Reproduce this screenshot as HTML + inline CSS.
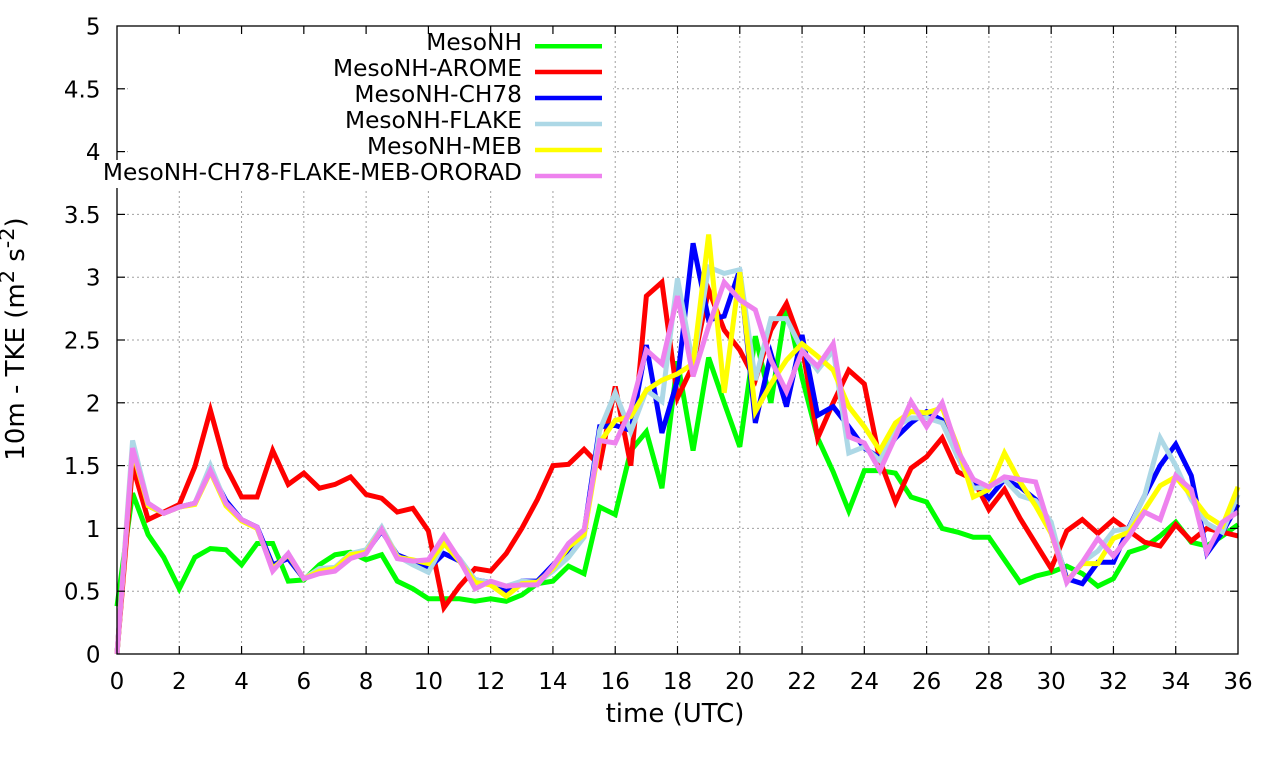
<!DOCTYPE html>
<html>
<head>
<meta charset="utf-8">
<style>
  html,body{margin:0;padding:0;background:#fff;}
  svg{display:block;}
  text{font-family:"DejaVu Sans","Liberation Sans",sans-serif;fill:#000;}
</style>
</head>
<body>
<svg width="1280" height="760" viewBox="0 0 1280 760" xmlns="http://www.w3.org/2000/svg">
  <rect x="0" y="0" width="1280" height="760" fill="#fff"/>

  <!-- grid -->
  <g stroke="#a0a0a0" stroke-width="1" stroke-dasharray="2,3" fill="none">
    <line x1="117" y1="591.2" x2="1238" y2="591.2"/>
    <line x1="117" y1="528.4" x2="1238" y2="528.4"/>
    <line x1="117" y1="465.6" x2="1238" y2="465.6"/>
    <line x1="117" y1="402.8" x2="1238" y2="402.8"/>
    <line x1="117" y1="340" x2="1238" y2="340"/>
    <line x1="117" y1="277.2" x2="1238" y2="277.2"/>
    <line x1="117" y1="214.4" x2="1238" y2="214.4"/>
    <line x1="117" y1="151.6" x2="1238" y2="151.6"/>
    <line x1="117" y1="88.8" x2="1238" y2="88.8"/>
    <line x1="179.28" y1="26" x2="179.28" y2="654"/>
    <line x1="241.56" y1="26" x2="241.56" y2="654"/>
    <line x1="303.83" y1="26" x2="303.83" y2="654"/>
    <line x1="366.11" y1="26" x2="366.11" y2="654"/>
    <line x1="428.39" y1="26" x2="428.39" y2="654"/>
    <line x1="490.67" y1="26" x2="490.67" y2="654"/>
    <line x1="552.94" y1="26" x2="552.94" y2="654"/>
    <line x1="615.22" y1="26" x2="615.22" y2="654"/>
    <line x1="677.5" y1="26" x2="677.5" y2="654"/>
    <line x1="739.78" y1="26" x2="739.78" y2="654"/>
    <line x1="802.06" y1="26" x2="802.06" y2="654"/>
    <line x1="864.33" y1="26" x2="864.33" y2="654"/>
    <line x1="926.61" y1="26" x2="926.61" y2="654"/>
    <line x1="988.89" y1="26" x2="988.89" y2="654"/>
    <line x1="1051.17" y1="26" x2="1051.17" y2="654"/>
    <line x1="1113.44" y1="26" x2="1113.44" y2="654"/>
    <line x1="1175.72" y1="26" x2="1175.72" y2="654"/>
  </g>

  <!-- data -->
  <g transform="translate(117,654) scale(15.5694,-125.6)" fill="none" stroke-width="5" stroke-linejoin="miter" stroke-miterlimit="4">
    <polyline vector-effect="non-scaling-stroke" stroke="#00ff00" points="0,0.38 1,1.28 2,0.95 3,0.77 4,0.52 5,0.77 6,0.84 7,0.83 8,0.71 9,0.88 10,0.88 11,0.58 12,0.59 13,0.71 14,0.79 15,0.81 16,0.75 17,0.79 18,0.58 19,0.52 20,0.44 21,0.44 22,0.44 23,0.42 24,0.44 25,0.42 26,0.47 27,0.56 28,0.58 29,0.70 30,0.64 31,1.17 32,1.11 33,1.62 34,1.77 35,1.32 36,2.33 37,1.62 38,2.36 39,2.0 40,1.65 41,2.53 42,2.0 43,2.79 44,2.2 45,1.72 46,1.45 47,1.14 48,1.46 49,1.46 50,1.44 51,1.25 52,1.21 53,1.0 54,0.97 55,0.93 56,0.93 57,0.75 58,0.57 59,0.62 60,0.65 61,0.70 62,0.64 63,0.54 64,0.60 65,0.81 66,0.85 67,0.94 68,1.05 69,0.89 70,0.86 71,0.94 72,1.03"/>
    <polyline vector-effect="non-scaling-stroke" stroke="#ff0000" points="0,0 1,1.5 2,1.07 3,1.13 4,1.19 5,1.49 6,1.94 7,1.49 8,1.25 9,1.25 10,1.62 11,1.35 12,1.44 13,1.32 14,1.35 15,1.41 16,1.27 17,1.24 18,1.13 19,1.16 20,0.98 21,0.37 22,0.54 23,0.68 24,0.66 25,0.80 26,1.0 27,1.23 28,1.5 29,1.51 30,1.63 31,1.50 32,2.13 33,1.50 34,2.85 35,2.96 36,2.04 37,2.3 38,2.90 39,2.58 40,2.42 41,2.18 42,2.58 43,2.79 44,2.45 45,1.72 46,2.0 47,2.26 48,2.15 49,1.54 50,1.21 51,1.48 52,1.57 53,1.72 54,1.45 55,1.39 56,1.15 57,1.31 58,1.08 59,0.88 60,0.68 61,0.98 62,1.07 63,0.96 64,1.07 65,0.98 66,0.89 67,0.86 68,1.03 69,0.90 70,1.0 71,0.97 72,0.94"/>
    <polyline vector-effect="non-scaling-stroke" stroke="#0000ff" points="0,0 1,1.64 2,1.18 3,1.12 4,1.17 5,1.2 6,1.46 7,1.22 8,1.07 9,1.01 10,0.71 11,0.76 12,0.6 13,0.65 14,0.67 15,0.78 16,0.81 17,0.98 18,0.79 19,0.74 20,0.68 21,0.80 22,0.74 23,0.59 24,0.57 25,0.50 26,0.58 27,0.58 28,0.71 29,0.83 30,0.97 31,1.81 32,1.82 33,1.78 34,2.46 35,1.76 36,2.18 37,3.27 38,2.66 39,2.69 40,3.06 41,1.84 42,2.39 43,1.97 44,2.54 45,1.90 46,1.97 47,1.81 48,1.64 49,1.56 50,1.72 51,1.84 52,1.93 53,1.86 54,1.57 55,1.39 56,1.24 57,1.39 58,1.33 59,1.23 60,1.0 61,0.60 62,0.56 63,0.73 64,0.73 65,1.01 66,1.26 67,1.50 68,1.67 69,1.42 70,0.80 71,0.97 72,1.19"/>
    <polyline vector-effect="non-scaling-stroke" stroke="#add8e6" points="0,0 1,1.7 2,1.2 3,1.12 4,1.17 5,1.2 6,1.5 7,1.2 8,1.07 9,1.0 10,0.67 11,0.8 12,0.6 13,0.68 14,0.69 15,0.8 16,0.83 17,1.01 18,0.78 19,0.71 20,0.65 21,0.88 22,0.76 23,0.59 24,0.57 25,0.54 26,0.58 27,0.57 28,0.66 29,0.77 30,0.93 31,1.78 32,2.08 33,1.77 34,2.10 35,2.01 36,2.99 37,2.3 38,3.08 39,3.03 40,3.06 41,2.18 42,2.67 43,2.67 44,2.42 45,2.26 46,2.42 47,1.60 48,1.65 49,1.54 50,1.81 51,1.88 52,1.88 53,1.84 54,1.57 55,1.32 56,1.33 57,1.39 58,1.26 59,1.22 60,1.05 61,0.57 62,0.73 63,0.82 64,0.98 65,1.0 66,1.26 67,1.72 68,1.5 69,1.23 70,1.04 71,0.97 72,1.27"/>
    <polyline vector-effect="non-scaling-stroke" stroke="#ffff00" points="0,0 1,1.62 2,1.18 3,1.12 4,1.17 5,1.19 6,1.45 7,1.18 8,1.06 9,1.0 10,0.68 11,0.79 12,0.6 13,0.66 14,0.68 15,0.79 16,0.81 17,0.99 18,0.77 19,0.75 20,0.72 21,0.88 22,0.74 23,0.57 24,0.55 25,0.46 26,0.56 27,0.57 28,0.68 29,0.85 30,0.95 31,1.68 32,1.86 33,1.89 34,2.10 35,2.18 36,2.23 37,2.31 38,3.34 39,2.08 40,3.04 41,1.93 42,2.15 43,2.34 44,2.47 45,2.37 46,2.26 47,1.97 48,1.81 49,1.62 50,1.84 51,1.93 52,1.92 53,1.96 54,1.65 55,1.25 56,1.31 57,1.60 58,1.37 59,1.18 60,0.96 61,0.58 62,0.72 63,0.72 64,0.92 65,0.97 66,1.15 67,1.34 68,1.41 69,1.26 70,1.10 71,1.02 72,1.33"/>
    <polyline vector-effect="non-scaling-stroke" stroke="#ee82ee" points="0,0 1,1.64 2,1.2 3,1.12 4,1.17 5,1.2 6,1.46 7,1.2 8,1.07 9,1.01 10,0.66 11,0.8 12,0.6 13,0.64 14,0.66 15,0.76 16,0.8 17,0.99 18,0.76 19,0.74 20,0.75 21,0.94 22,0.75 23,0.52 24,0.58 25,0.54 26,0.55 27,0.55 28,0.70 29,0.88 30,0.99 31,1.70 32,1.68 33,1.95 34,2.42 35,2.31 36,2.85 37,2.21 38,2.61 39,2.96 40,2.82 41,2.74 42,2.34 43,2.09 44,2.41 45,2.29 46,2.47 47,1.73 48,1.68 49,1.46 50,1.73 51,2.01 52,1.81 53,2.0 54,1.62 55,1.39 56,1.33 57,1.41 58,1.39 59,1.37 60,0.97 61,0.57 62,0.73 63,0.92 64,0.78 65,0.94 66,1.13 67,1.07 68,1.42 69,1.31 70,0.81 71,1.05 72,1.13"/>
  </g>

  <!-- key box (opaque) -->
  <rect x="128" y="27" width="485" height="161" fill="#fff"/>

  <!-- border -->
  <rect x="117" y="26" width="1121" height="628" fill="none" stroke="#000" stroke-width="1.3"/>

  <!-- ticks -->
  <g stroke="#000" stroke-width="1.2">
    <line x1="117" y1="591.2" x2="125" y2="591.2"/><line x1="1238" y1="591.2" x2="1230" y2="591.2"/>
    <line x1="117" y1="528.4" x2="125" y2="528.4"/><line x1="1238" y1="528.4" x2="1230" y2="528.4"/>
    <line x1="117" y1="465.6" x2="125" y2="465.6"/><line x1="1238" y1="465.6" x2="1230" y2="465.6"/>
    <line x1="117" y1="402.8" x2="125" y2="402.8"/><line x1="1238" y1="402.8" x2="1230" y2="402.8"/>
    <line x1="117" y1="340" x2="125" y2="340"/><line x1="1238" y1="340" x2="1230" y2="340"/>
    <line x1="117" y1="277.2" x2="125" y2="277.2"/><line x1="1238" y1="277.2" x2="1230" y2="277.2"/>
    <line x1="117" y1="214.4" x2="125" y2="214.4"/><line x1="1238" y1="214.4" x2="1230" y2="214.4"/>
    <line x1="117" y1="151.6" x2="125" y2="151.6"/><line x1="1238" y1="151.6" x2="1230" y2="151.6"/>
    <line x1="117" y1="88.8" x2="125" y2="88.8"/><line x1="1238" y1="88.8" x2="1230" y2="88.8"/>

    <line x1="179.28" y1="654" x2="179.28" y2="646"/><line x1="179.28" y1="26" x2="179.28" y2="34"/>
    <line x1="241.56" y1="654" x2="241.56" y2="646"/><line x1="241.56" y1="26" x2="241.56" y2="34"/>
    <line x1="303.83" y1="654" x2="303.83" y2="646"/><line x1="303.83" y1="26" x2="303.83" y2="34"/>
    <line x1="366.11" y1="654" x2="366.11" y2="646"/><line x1="366.11" y1="26" x2="366.11" y2="34"/>
    <line x1="428.39" y1="654" x2="428.39" y2="646"/><line x1="428.39" y1="26" x2="428.39" y2="34"/>
    <line x1="490.67" y1="654" x2="490.67" y2="646"/><line x1="490.67" y1="26" x2="490.67" y2="34"/>
    <line x1="552.94" y1="654" x2="552.94" y2="646"/><line x1="552.94" y1="26" x2="552.94" y2="34"/>
    <line x1="615.22" y1="654" x2="615.22" y2="646"/><line x1="615.22" y1="26" x2="615.22" y2="34"/>
    <line x1="677.5" y1="654" x2="677.5" y2="646"/><line x1="677.5" y1="26" x2="677.5" y2="34"/>
    <line x1="739.78" y1="654" x2="739.78" y2="646"/><line x1="739.78" y1="26" x2="739.78" y2="34"/>
    <line x1="802.06" y1="654" x2="802.06" y2="646"/><line x1="802.06" y1="26" x2="802.06" y2="34"/>
    <line x1="864.33" y1="654" x2="864.33" y2="646"/><line x1="864.33" y1="26" x2="864.33" y2="34"/>
    <line x1="926.61" y1="654" x2="926.61" y2="646"/><line x1="926.61" y1="26" x2="926.61" y2="34"/>
    <line x1="988.89" y1="654" x2="988.89" y2="646"/><line x1="988.89" y1="26" x2="988.89" y2="34"/>
    <line x1="1051.17" y1="654" x2="1051.17" y2="646"/><line x1="1051.17" y1="26" x2="1051.17" y2="34"/>
    <line x1="1113.44" y1="654" x2="1113.44" y2="646"/><line x1="1113.44" y1="26" x2="1113.44" y2="34"/>
    <line x1="1175.72" y1="654" x2="1175.72" y2="646"/><line x1="1175.72" y1="26" x2="1175.72" y2="34"/>
  </g>

  <!-- y tick labels -->
  <g font-size="23" text-anchor="end">
    <text x="100.5" y="662.5">0</text>
    <text x="100.5" y="599.7">0.5</text>
    <text x="100.5" y="536.9">1</text>
    <text x="100.5" y="474.1">1.5</text>
    <text x="100.5" y="411.3">2</text>
    <text x="100.5" y="348.5">2.5</text>
    <text x="100.5" y="285.7">3</text>
    <text x="100.5" y="222.9">3.5</text>
    <text x="100.5" y="160.1">4</text>
    <text x="100.5" y="97.3">4.5</text>
    <text x="100.5" y="34.5">5</text>
  </g>

  <!-- x tick labels -->
  <g font-size="23" text-anchor="middle">
    <text x="117" y="689">0</text>
    <text x="179.28" y="689">2</text>
    <text x="241.56" y="689">4</text>
    <text x="303.83" y="689">6</text>
    <text x="366.11" y="689">8</text>
    <text x="428.39" y="689">10</text>
    <text x="490.67" y="689">12</text>
    <text x="552.94" y="689">14</text>
    <text x="615.22" y="689">16</text>
    <text x="677.5" y="689">18</text>
    <text x="739.78" y="689">20</text>
    <text x="802.06" y="689">22</text>
    <text x="864.33" y="689">24</text>
    <text x="926.61" y="689">26</text>
    <text x="988.89" y="689">28</text>
    <text x="1051.17" y="689">30</text>
    <text x="1113.44" y="689">32</text>
    <text x="1175.72" y="689">34</text>
    <text x="1238" y="689">36</text>
  </g>

  <!-- axis labels -->
  <text x="675" y="722" font-size="26" text-anchor="middle">time (UTC)</text>
  <text transform="translate(24,339) rotate(-90)" font-size="26" text-anchor="middle">10m - TKE (m<tspan font-size="20.8" dy="-10">2</tspan><tspan dy="10"> s</tspan><tspan font-size="20.8" dy="-10">-2</tspan><tspan dy="10">)</tspan></text>

  <!-- legend -->
  <rect x="111" y="160" width="17" height="28" fill="#fff"/>
  <g font-size="23.3" text-anchor="end">
    <text x="522" y="50">MesoNH</text>
    <text x="522" y="76">MesoNH-AROME</text>
    <text x="522" y="102">MesoNH-CH78</text>
    <text x="522" y="128">MesoNH-FLAKE</text>
    <text x="522" y="154">MesoNH-MEB</text>
    <text x="522" y="180">MesoNH-CH78-FLAKE-MEB-ORORAD</text>
  </g>
  <g stroke-width="4.5">
    <line x1="535" y1="46.3" x2="602" y2="46.3" stroke="#00ff00"/>
    <line x1="535" y1="72" x2="602" y2="72" stroke="#ff0000"/>
    <line x1="535" y1="98" x2="602" y2="98" stroke="#0000ff"/>
    <line x1="535" y1="124" x2="602" y2="124" stroke="#add8e6"/>
    <line x1="535" y1="150" x2="602" y2="150" stroke="#ffff00"/>
    <line x1="535" y1="176" x2="602" y2="176" stroke="#ee82ee"/>
  </g>
</svg>
</body>
</html>
